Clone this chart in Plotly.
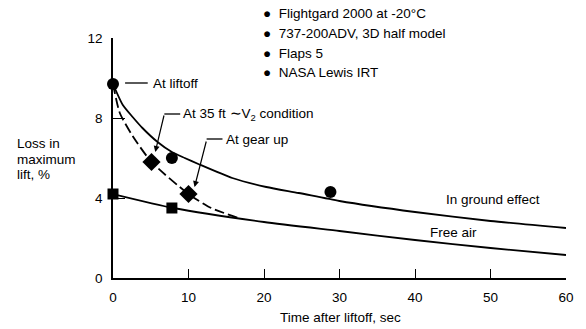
import plotly.graph_objects as go

# Time after liftoff (s) and loss in maximum lift (%)
ground_t = [0, 1.3, 2.6, 3.9, 5.9, 7.8, 9.5, 11.3, 15.8, 20.3, 24.6, 30, 40, 50, 60]
ground_loss = [9.7, 8.65, 8.05, 7.5, 6.8, 6.3, 6.0, 5.7, 5.0, 4.55, 4.25, 3.85, 3.3, 2.85, 2.5]

free_t = [0, 8, 20, 30, 40, 50, 60]
free_loss = [4.2, 3.5, 2.8, 2.35, 1.9, 1.5, 1.15]

climb_t = [0, 0.9, 2.6, 5.1, 10, 13, 17]
climb_loss = [9.7, 8.25, 7.1, 5.8, 4.2, 3.5, 2.95]

circle_t = [0, 7.8, 28.8]
circle_loss = [9.7, 6.0, 4.3]

diamond_t = [5.1, 10]
diamond_loss = [5.8, 4.2]

square_t = [0, 7.8]
square_loss = [4.2, 3.5]

x_ticks = [0, 10, 20, 30, 40, 50, 60]
y_ticks = [0, 4, 8, 12]

legend_lines = ["Flightgard 2000 at -20°C", "737-200ADV, 3D half model",
                "Flaps 5", "NASA Lewis IRT"]

FONT = "Liberation Sans, Arial, sans-serif"
INK = "black"
FS = 13.5

# plot area in pixels: x 113..569, y 38..278
PX0, PX1, PY0, PY1 = 113, 569, 38, 278


def px_to_paper(px, py):
    return (px - PX0) / (PX1 - PX0), (PY1 - py) / (PY1 - PY0)


fig = go.Figure()

curve_line = dict(color=INK, width=1.8, shape="spline", smoothing=0.6)
fig.add_trace(go.Scatter(x=ground_t, y=ground_loss, mode="lines", line=curve_line,
                         cliponaxis=False, hoverinfo="skip"))
fig.add_trace(go.Scatter(x=free_t, y=free_loss, mode="lines", line=curve_line,
                         cliponaxis=False, hoverinfo="skip"))
fig.add_trace(go.Scatter(x=climb_t, y=climb_loss, mode="lines",
                         line=dict(curve_line, dash="10px,4px"),
                         cliponaxis=False, hoverinfo="skip"))

fig.add_trace(go.Scatter(x=circle_t, y=circle_loss, mode="markers",
                         marker=dict(symbol="circle", size=12, color=INK),
                         cliponaxis=False))
fig.add_trace(go.Scatter(x=diamond_t, y=diamond_loss, mode="markers",
                         marker=dict(symbol="diamond", size=14, color=INK),
                         cliponaxis=False))
fig.add_trace(go.Scatter(x=square_t, y=square_loss, mode="markers",
                         marker=dict(symbol="square", size=11, color=INK),
                         cliponaxis=False))

fig.update_xaxes(range=[0, 60], tickvals=x_ticks, ticks="inside", ticklen=9,
                 tickwidth=1.3, tickcolor=INK, showline=True, linecolor=INK,
                 linewidth=1.5, showgrid=False, zeroline=False, ticklabelstandoff=6,
                 tickfont=dict(family=FONT, size=FS, color=INK))
fig.update_yaxes(range=[0, 12], tickvals=y_ticks, ticks="inside", ticklen=12,
                 tickwidth=1.3, tickcolor=INK, showline=True, linecolor=INK,
                 linewidth=1.5, showgrid=False, zeroline=False, ticklabelstandoff=6,
                 tickfont=dict(family=FONT, size=FS, color=INK))

annotations = []


def label(text, px, py, xanchor="left"):
    x, y = px_to_paper(px, py)
    annotations.append(dict(text=text, x=x, y=y, xref="paper", yref="paper",
                            xanchor=xanchor, yanchor="middle", showarrow=False,
                            font=dict(family=FONT, size=FS, color=INK)))


# key in the upper right
for i, line in enumerate(legend_lines):
    label("●  " + line, 262, 14 + 19.5 * i)

label("At liftoff", 151, 83)
label("At 35 ft ∼V<sub>2</sub> condition", 181, 114)
label("At gear up", 225, 139)
label("In ground effect", 446, 199)
label("Free air", 430, 232)

# leader arrows
annotations.append(dict(x=5.6, y=6.3, ax=6.8, ay=8.2, xref="x", yref="y",
                        axref="x", ayref="y", text="", showarrow=True,
                        arrowhead=2, arrowsize=1, arrowwidth=1.2, arrowcolor=INK))
annotations.append(dict(x=10.8, y=4.55, ax=12.4, ay=6.9, xref="x", yref="y",
                        axref="x", ayref="y", text="", showarrow=True,
                        arrowhead=2, arrowsize=1, arrowwidth=1.2, arrowcolor=INK))

# axis titles
for text, py in [("Loss in", 143), ("maximum", 159), ("lift, %", 174)]:
    label(text, 14, py)
label("Time after liftoff, sec", 342, 317, xanchor="center")

shapes = [
    dict(type="line", xref="x", yref="y", x0=1.6, y0=9.75, x1=4.6, y1=9.75,
         line=dict(color=INK, width=1.3)),
    dict(type="line", xref="x", yref="y", x0=6.8, y0=8.2, x1=8.9, y1=8.2,
         line=dict(color=INK, width=1.3)),
    dict(type="line", xref="x", yref="y", x0=12.4, y0=6.95, x1=14.5, y1=6.95,
         line=dict(color=INK, width=1.3)),
]

fig.update_layout(width=586, height=329, margin=dict(l=113, r=17, t=38, b=51),
                  paper_bgcolor="white", plot_bgcolor="white", showlegend=False,
                  annotations=annotations, shapes=shapes)

fig.write_html("out.html")
